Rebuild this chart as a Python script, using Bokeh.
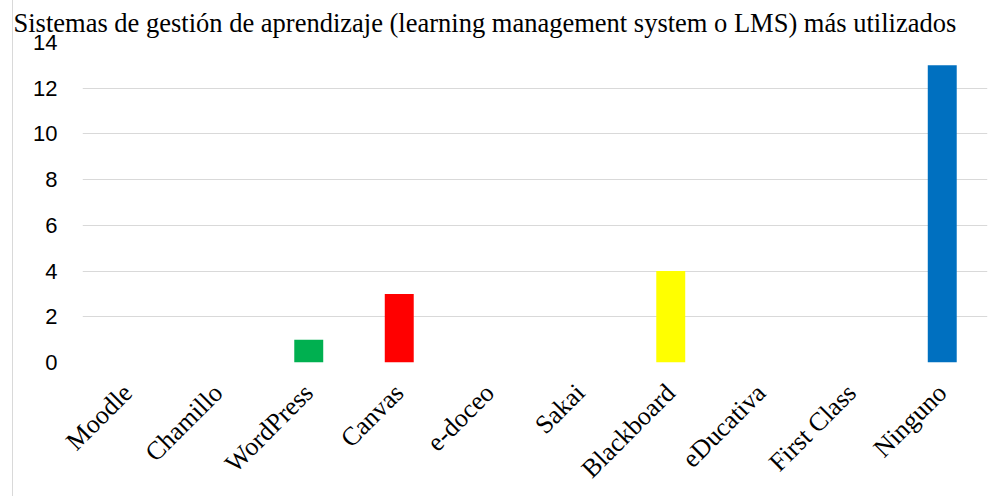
from bokeh.plotting import figure
from bokeh.models import ColumnDataSource, Range1d, FixedTicker
from bokeh.embed import file_html
from bokeh.resources import INLINE
import math

title_text = "Sistemas de gestión de aprendizaje (learning management system o LMS) más utilizados"
categories = ["Moodle", "Chamillo", "WordPress", "Canvas", "e-doceo", "Sakai",
              "Blackboard", "eDucativa", "First Class", "Ninguno"]
values = [0, 0, 1, 3, 0, 0, 4, 0, 0, 13]
colors = ["#4472c4", "#4472c4", "#00b050", "#ff0000", "#4472c4", "#4472c4",
          "#ffff00", "#4472c4", "#4472c4", "#0070c0"]
y_ticks = [0, 2, 4, 6, 8, 10, 12, 14]

source = ColumnDataSource(dict(cat=categories, val=values, color=colors))

p = figure(x_range=categories, y_range=Range1d(0, 14),
           width=990, height=496, title=title_text,
           output_backend="svg", toolbar_location=None,
           min_border_left=69, min_border_right=16,
           min_border_top=40, min_border_bottom=134,
           styles={"margin-left": "12px", "border-left": "1px solid #d9d9d9"})

p.vbar(x="cat", top="val", width=0.32, fill_color="color", line_color=None,
       source=source)

p.title.text_font = "Liberation Serif"
p.title.text_font_size = "26.5px"
p.title.text_font_style = "normal"
p.title.text_color = "black"
p.title.align = "left"
p.title.offset = -69
p.title.standoff = 10

p.outline_line_color = None
p.background_fill_color = "white"
p.border_fill_color = "white"

p.xgrid.grid_line_color = None
p.ygrid.grid_line_color = "#d9d9d9"
p.ygrid.grid_line_width = 1
p.yaxis.ticker = FixedTicker(ticks=y_ticks)

p.yaxis.axis_line_color = None
p.yaxis.major_tick_line_color = None
p.yaxis.minor_tick_line_color = None
p.yaxis.major_label_standoff = 19
p.yaxis.major_label_text_font = "Liberation Sans"
p.yaxis.major_label_text_font_size = "22px"
p.yaxis.major_label_text_color = "black"

p.xaxis.axis_line_color = None
p.xaxis.major_tick_line_color = None
p.xaxis.major_label_orientation = math.pi / 4
p.xaxis.major_label_standoff = 20
p.xaxis.major_label_text_font = "Liberation Serif"
p.xaxis.major_label_text_font_size = "26px"
p.xaxis.major_label_text_color = "black"

open("out.html", "w").write(file_html(p, INLINE))
